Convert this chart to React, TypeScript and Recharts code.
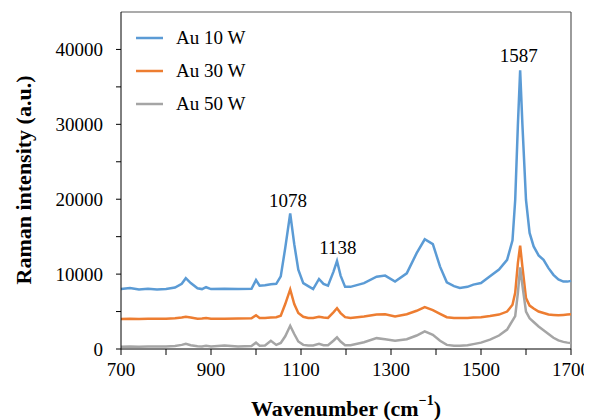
import { LineChart, Line, XAxis, YAxis, ReferenceLine, ReferenceDot, Legend, Label } from 'recharts';

// Raman shift grid (cm-1), shared by all three spectra
const wavenumbers = [
  700, 720, 740, 760, 780, 800, 820, 835, 844, 855, 870, 880, 889, 900, 930, 960, 990, 1000, 1008, 1020,
  1033, 1045, 1055, 1065, 1076, 1085, 1094, 1105, 1116, 1127, 1140, 1150, 1160, 1172, 1180, 1188, 1198, 1210,
  1240, 1268, 1287, 1309, 1335, 1357, 1375, 1393, 1409, 1424, 1440, 1453, 1470, 1483, 1500, 1520, 1540, 1558,
  1570, 1576, 1582, 1587, 1592, 1600, 1608, 1617, 1628, 1639, 1650, 1661, 1672, 1683, 1692, 1700,
];

const au10 = [
  8000, 8150, 7950, 8050, 7950, 8000, 8200, 8700, 9450, 8800, 8100, 8000, 8250, 8000, 8050, 8000, 8050, 9200, 8450, 8500,
  8650, 8700, 9700, 13500, 18100, 14000, 10600, 8800, 8400, 8000, 9350, 8700, 8450, 10300, 11750, 9800, 8300, 8300,
  8800, 9650, 9800, 9000, 10100, 12800, 14650, 14000, 11000, 8900, 8400, 8150, 8300, 8600, 8800, 9700, 10600, 11900,
  14500, 19900, 30000, 37200, 30000, 19900, 15500, 13700, 12500, 11900, 10800, 9900, 9300, 9000, 9000, 9100,
];

const au30 = [
  4000, 4050, 4000, 4050, 4050, 4050, 4100, 4200, 4300, 4200, 4050, 4080, 4150, 4050, 4050, 4080, 4100, 4500, 4150, 4150,
  4200, 4250, 4450, 6000, 7950, 6000, 4800, 4300, 4150, 4150, 4300, 4200, 4150, 4900, 5450, 4800, 4250, 4150,
  4350, 4600, 4650, 4350, 4650, 5100, 5600, 5200, 4700, 4250, 4150, 4130, 4150, 4200, 4250, 4400, 4600, 5000,
  5900, 7500, 11500, 13800, 11000, 6800, 5800, 5400, 5000, 4800, 4600, 4550, 4500, 4550, 4600, 4650,
];

const au50 = [
  300, 320, 300, 330, 320, 350, 400, 550, 680, 500, 380, 350, 420, 350, 480, 350, 400, 850, 450, 480,
  1100, 550, 800, 1700, 3100, 2000, 1000, 550, 480, 480, 680, 500, 500, 1100, 1550, 1000, 500, 500,
  900, 1450, 1300, 1100, 1300, 1800, 2350, 1900, 1100, 550, 450, 450, 500, 650, 850, 1250, 1800, 2600,
  3800, 4400, 7500, 10900, 8500, 5000, 4100, 3600, 3000, 2500, 2000, 1500, 1150, 950, 850, 800,
];

const xTicks = [700, 800, 900, 1000, 1100, 1200, 1300, 1400, 1500, 1600, 1700];
const yTicks = [0, 5000, 10000, 15000, 20000, 25000, 30000, 35000, 40000];

const peakLabels = [
  { text: '1078', w: 1071, i: 19900 },
  { text: '1138', w: 1182, i: 13600 },
  { text: '1587', w: 1584, i: 39200 },
];

const series = [
  { key: 'au10', name: 'Au 10 W', color: '#5B9BD5' },
  { key: 'au30', name: 'Au 30 W', color: '#ED7D31' },
  { key: 'au50', name: 'Au 50 W', color: '#A5A5A5' },
];

const data = wavenumbers.map((w, i) => ({ w, au10: au10[i], au30: au30[i], au50: au50[i] }));

const SERIF = '"Liberation Serif", "Times New Roman", serif';

function SeriesLegend() {
  return (
    <div style={{ fontFamily: SERIF, fontSize: 19, color: '#000' }}>
      {series.map((s) => (
        <div key={s.key} style={{ display: 'flex', alignItems: 'center', height: 33 }}>
          <svg width={27} height={4} style={{ marginRight: 13 }}>
            <line x1={0} y1={2} x2={27} y2={2} stroke={s.color} strokeWidth={2.5} />
          </svg>
          <span>{s.name}</span>
        </div>
      ))}
    </div>
  );
}

export default function App() {
  return (
    <div style={{ fontFamily: SERIF }}>
      <LineChart
        width={584}
        height={412}
        data={data}
        margin={{ top: 4, right: 21, left: 0, bottom: 0 }}
        style={{ fontFamily: SERIF }}
      >
        <XAxis
          dataKey="w"
          type="number"
          domain={[700, 1700]}
          ticks={xTicks}
          tickFormatter={(v: number) => ((v - 700) % 200 === 0 ? String(v) : '')}
          height={71}
          tickSize={6}
          tickMargin={8}
          stroke="#000"
          tick={{ fill: '#000', fontSize: 19, fontFamily: SERIF }}
        >
          <Label
            content={() => (
              <text
                x={338}
                y={400}
                textAnchor="middle"
                dominantBaseline="central"
                fontFamily={SERIF}
                fontWeight="bold"
                fontSize={22}
                fill="#000"
              >
                Wavenumber (cm<tspan dy={-8} fontSize={14}>−1</tspan><tspan dy={8}>)</tspan>
              </text>
            )}
          />
        </XAxis>
        <YAxis
          type="number"
          domain={[0, 45000]}
          ticks={yTicks}
          tickFormatter={(v: number) => (v % 10000 === 0 ? String(v) : '')}
          width={113}
          tickSize={5}
          tickMargin={13}
          stroke="#000"
          tick={{ fill: '#000', fontSize: 19, fontFamily: SERIF }}
        >
          <Label
            content={() => (
              <text
                x={15}
                y={172}
                transform="rotate(-90 15 172)"
                textAnchor="middle"
                dominantBaseline="central"
                fontFamily={SERIF}
                fontWeight="bold"
                fontSize={22}
                fill="#000"
              >
                Raman intensity (a.u.)
              </text>
            )}
          />
        </YAxis>
        <ReferenceLine y={45000} stroke="#595959" strokeWidth={1.2} />
        <ReferenceLine x={1700} stroke="#595959" strokeWidth={1.2} />
        {series.map((s) => (
          <Line
            key={s.key}
            dataKey={s.key}
            name={s.name}
            type="linear"
            stroke={s.color}
            strokeWidth={2.5}
            dot={false}
            isAnimationActive={false}
          />
        ))}
        {peakLabels.map((p) => (
          <ReferenceDot
            key={p.text}
            x={p.w}
            y={p.i}
            r={2}
            fill="none"
            stroke="none"
            label={{ value: p.text, position: 'center', fill: '#000', fontSize: 19, fontFamily: SERIF }}
          />
        ))}
        <Legend
          layout="vertical"
          align="center"
          verticalAlign="middle"
          content={<SeriesLegend />}
          wrapperStyle={{ left: 128, top: 13, width: 'auto' }}
        />
      </LineChart>
    </div>
  );
}
